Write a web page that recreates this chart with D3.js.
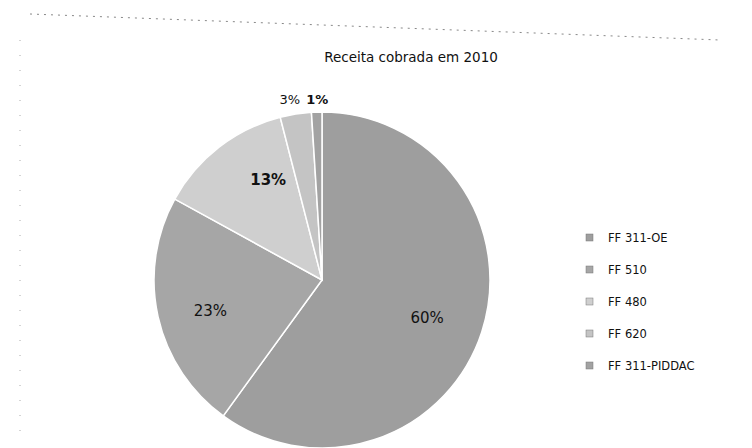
<!DOCTYPE html>
<html>
<head>
<meta charset="utf-8">
<script src="https://cdn.jsdelivr.net/npm/d3@7"></script>
<style>
  body { margin: 0; background: #fff; }
  text { font-family: "DejaVu Sans", sans-serif; }
</style>
</head>
<body>
<svg id="chart"></svg>
<script>
var svg_width = 752, svg_height = 448;

var categories = ["FF 311-OE", "FF 510", "FF 480", "FF 620", "FF 311-PIDDAC"];
var values = [60, 23, 13, 3, 1];
var colors = ["#9e9e9e", "#a6a6a6", "#cfcfcf", "#c4c4c4", "#a2a2a2"];
var title = "Receita cobrada em 2010";

var cx = 322, cy = 280, radius = 168;

var svg = d3.select("#chart")
	.attr("width", svg_width)
	.attr("height", svg_height);

// faint dotted frame of the scanned chart area
svg.append("path")
	.attr("d", "M30,14 L720,40")
	.attr("stroke", "#888")
	.attr("stroke-width", 1)
	.attr("stroke-dasharray", "2,5")
	.attr("fill", "none");
svg.append("path")
	.attr("d", "M20,40 L20,440")
	.attr("stroke", "#aaa")
	.attr("stroke-width", 1)
	.attr("stroke-dasharray", "1,14")
	.attr("fill", "none");

svg.append("text")
	.attr("x", 411)
	.attr("y", 62)
	.attr("text-anchor", "middle")
	.attr("font-size", 13.5)
	.attr("fill", "#111")
	.text(title);

var pie = d3.pie().sort(null).value(function (d) { return d; });
var arcs = pie(values);

var arc = d3.arc().innerRadius(0).outerRadius(radius);
var labelArc = d3.arc().innerRadius(radius * 0.62).outerRadius(radius * 0.62);
var outerArc = d3.arc().innerRadius(radius + 18).outerRadius(radius + 18);

var g = svg.append("g")
	.attr("transform", "translate(" + cx + "," + cy + ")");

g.selectAll("path.slice")
	.data(arcs)
	.enter().append("path")
	.attr("class", "slice")
	.attr("d", arc)
	.attr("fill", function (d, i) { return colors[i]; })
	.attr("stroke", "#fff")
	.attr("stroke-width", 1.5);

g.selectAll("text.lbl")
	.data(arcs)
	.enter().append("text")
	.attr("class", "lbl")
	.attr("transform", function (d) {
		var p = d.data < 5 ? outerArc.centroid(d) : labelArc.centroid(d);
		if (d.data === 13) p = [p[0] + 10, p[1] - 18];
		if (d.data === 23) p = [p[0] - 10, p[1] + 8];
		if (d.data === 60) p = [p[0] + 6, p[1] + 6];
		if (d.data === 3) p = [p[0] - 3, p[1] + 3];
		if (d.data === 1) p = [p[0] + 1, p[1] + 5];
		return "translate(" + p[0] + "," + p[1] + ")";
	})
	.attr("text-anchor", "middle")
	.attr("dy", "0.35em")
	.attr("font-size", function (d) { return d.data < 5 ? 13 : 15; })
	.attr("font-weight", function (d) { return d.data === 13 || d.data === 1 ? "bold" : "normal"; })
	.attr("fill", "#111")
	.text(function (d) { return d.data + "%"; });

var legend = svg.append("g")
	.attr("transform", "translate(590,238)");

var item = legend.selectAll("g")
	.data(categories)
	.enter().append("g")
	.attr("transform", function (d, i) { return "translate(0," + i * 32 + ")"; });

item.append("rect")
	.attr("x", -4)
	.attr("y", -4)
	.attr("width", 7)
	.attr("height", 7)
	.attr("fill", function (d, i) { return colors[i]; })
	.attr("stroke", "#777")
	.attr("stroke-width", 0.5);

item.append("text")
	.attr("x", 18)
	.attr("dy", "0.35em")
	.attr("font-size", 11.5)
	.attr("fill", "#111")
	.text(function (d) { return d; });
</script>
</body>
</html>
